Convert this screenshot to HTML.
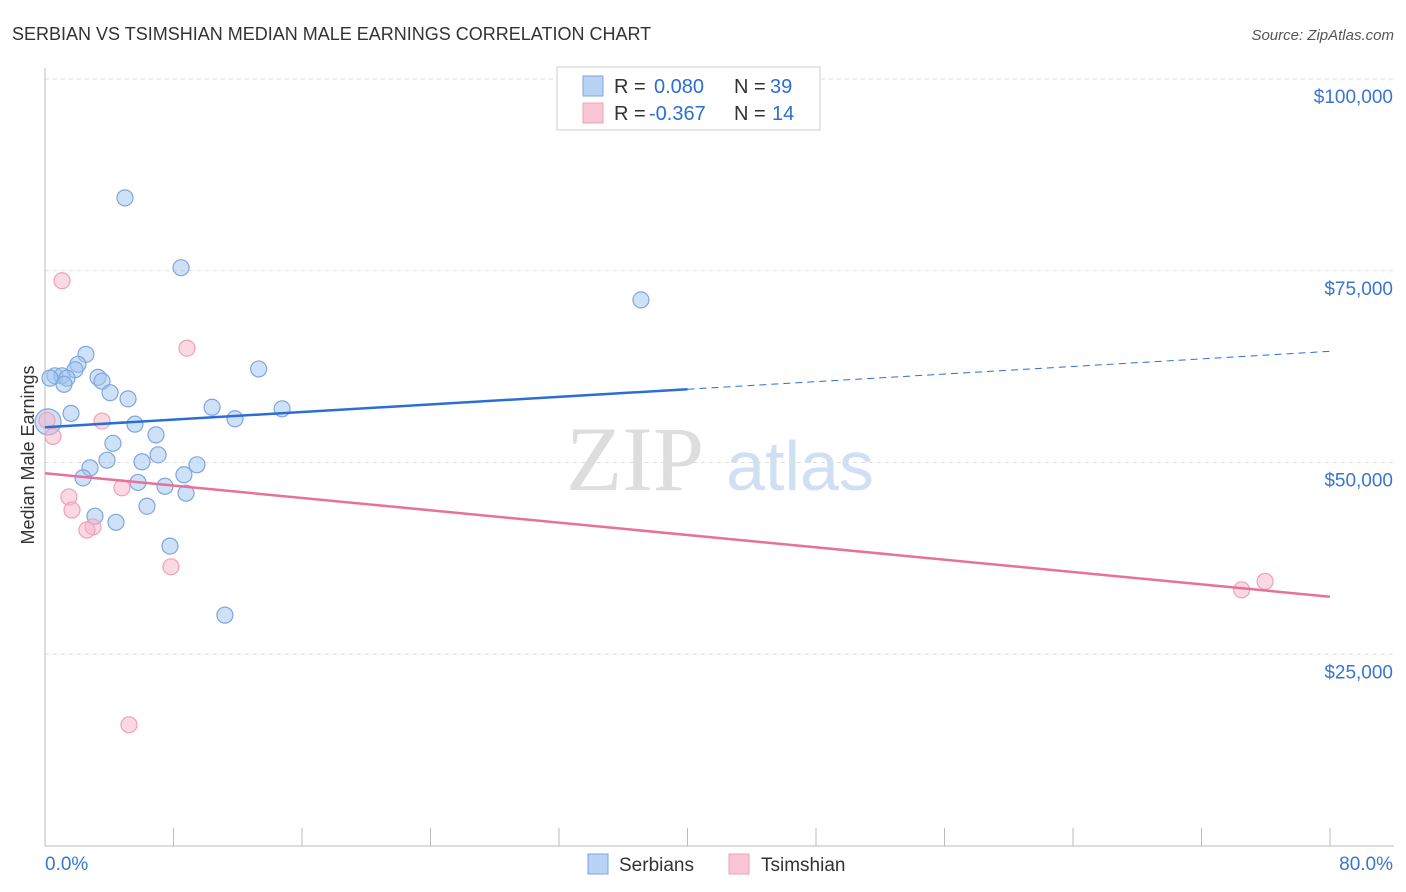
<!DOCTYPE html>
<html><head><meta charset="utf-8"><style>
body{margin:0;background:#fff;font-family:"Liberation Sans",sans-serif}
svg{display:block}
</style></head><body>
<svg id="chart" width="1406" height="892" xmlns="http://www.w3.org/2000/svg">
<text x="12" y="40" font-size="18" fill="#333">SERBIAN VS TSIMSHIAN MEDIAN MALE EARNINGS CORRELATION CHART</text>
<text x="1394" y="40" font-size="15" fill="#555" font-style="italic" text-anchor="end">Source: ZipAtlas.com</text>
<text x="635" y="490" font-size="92" fill="#ddd" font-family="Liberation Serif,serif" text-anchor="middle">ZIP</text>
<text x="800" y="490" font-size="70" fill="#cfe0f5" text-anchor="middle">atlas</text>
<g id="grid"></g><g id="axes"></g><g id="marks"></g>
<text transform="translate(34,455) rotate(-90)" font-size="18" fill="#333" text-anchor="middle">Median Male Earnings</text>
<g>
<rect x="557" y="67" width="263" height="63" fill="#fff" stroke="#ccc"/>
<rect x="583" y="76" width="20" height="20" fill="#b8d3f5" stroke="#7ea6e0"/>
<text x="614" y="93" font-size="20" fill="#333">R = </text><text x="654" y="93" font-size="20" fill="#2a6fd6">0.080</text>
<text x="734" y="93" font-size="20" fill="#333">N = </text><text x="770" y="93" font-size="20" fill="#2a6fd6">39</text>
<rect x="583" y="103" width="20" height="20" fill="#f9c6d6" stroke="#f0a0b8"/>
<text x="614" y="120" font-size="20" fill="#333">R = </text><text x="649" y="120" font-size="20" fill="#2a6fd6">-0.367</text>
<text x="734" y="120" font-size="20" fill="#333">N = </text><text x="772" y="120" font-size="20" fill="#2a6fd6">14</text>
</g>
<g><rect x="588" y="854" width="20" height="20" fill="#b8d3f5" stroke="#7ea6e0"/><text x="619" y="871" font-size="19" fill="#333">Serbians</text></g>
<g><rect x="729" y="854" width="20" height="20" fill="#f9c6d6" stroke="#f0a0b8"/><text x="761" y="871" font-size="19" fill="#333">Tsimshian</text></g>
</svg>
<script>
const yTicks=[25000,50000,75000,100000];
const yTickLabels=["$25,000","$50,000","$75,000","$100,000"];
const serbX=[4.98,8.47,37.1,2.55,2.05,13.3,1.87,0.62,1.06,3.30,1.37,3.55,1.18,4.05,5.17,10.4,14.76,1.62,11.83,5.60,6.91,4.23,7.04,6.04,3.86,2.80,9.46,8.65,2.37,5.79,7.47,8.78,6.35,3.11,4.42,7.78,11.2,0.19,0.31];
const serbY=[84.5,75.4,71.2,64.1,62.8,62.2,62.1,61.3,61.3,61.1,61.0,60.6,60.2,59.1,58.3,57.2,57.0,56.4,55.7,55.0,53.6,52.5,51.0,50.1,50.3,49.3,49.7,48.4,48.0,47.4,46.9,46.0,44.3,43.0,42.2,39.1,30.1,55.3,61.0];
const tsimX=[1.06,8.84,3.55,0.12,0.50,4.79,1.49,1.68,2.99,2.61,7.84,5.23,74.5,75.96];
const tsimY=[73.7,64.9,55.4,55.5,53.4,46.7,45.5,43.8,41.6,41.2,36.4,15.8,33.4,34.5];
const serbTrend=[54.6,64.5];
const tsimTrend=[48.6,32.5];
const NS="http://www.w3.org/2000/svg";
const X=p=>45+p/80*1285;
const Y=v=>846-v/100000*767;
function mk(tag,attrs,parent){const e=document.createElementNS(NS,tag);for(const k in attrs)e.setAttribute(k,attrs[k]);document.getElementById(parent).appendChild(e);return e;}
yTicks.forEach((t,i)=>{
 const g=mk('line',{x1:45,x2:1394,y1:Y(t),y2:Y(t),stroke:'#ddd','stroke-dasharray':'4,4'},'grid');
 
 
 const l=mk('text',{x:1393,y:Y(t)+24,'font-size':19,fill:'#3a75d0','text-anchor':'end'},'axes');
 l.textContent=yTickLabels[i];
 
 
});
const ax=mk('line',{x1:45,x2:45,y1:68,y2:846,stroke:'#bbb'},'axes');


const bx=mk('line',{x1:45,x2:1394,y1:846,y2:846,stroke:'#bbb'},'axes');


for(let p=0;p<=80;p+=8){const t=mk('line',{x1:X(p),x2:X(p),y1:828,y2:846,stroke:'#bbb'},'axes');
 
 }
const xl0=mk('text',{x:45,y:870,'font-size':19,fill:'#3a75d0'},'axes');xl0.textContent='0.0%';


const xl1=mk('text',{x:1393,y:870,'font-size':19,fill:'#3a75d0','text-anchor':'end'},'axes');xl1.textContent='80.0%';


serbX.forEach((x,i)=>{const c=mk('circle',{cx:X(x),cy:Y(serbY[i]*1000),r:i==37?13:8,fill:'rgba(160,196,240,0.5)',stroke:'#7ea6e0','stroke-width':1.2},'marks');
 
 });
tsimX.forEach((x,i)=>{const c=mk('circle',{cx:X(x),cy:Y(tsimY[i]*1000),r:8,fill:'rgba(248,180,200,0.5)',stroke:'#f0a0b8','stroke-width':1.2},'marks');
 
 });
const mid=40, sm=serbTrend[0]+(serbTrend[1]-serbTrend[0])*mid/80;
const s1=mk('line',{x1:X(0),y1:Y(serbTrend[0]*1000),x2:X(mid),y2:Y(sm*1000),stroke:'#2a6fd6','stroke-width':2.5},'marks');


const s2=mk('line',{x1:X(mid),y1:Y(sm*1000),x2:X(80),y2:Y(serbTrend[1]*1000),stroke:'#2a6fd6','stroke-width':1,'stroke-dasharray':'7,5'},'marks');


const t1=mk('line',{x1:X(0),y1:Y(tsimTrend[0]*1000),x2:X(80),y2:Y(tsimTrend[1]*1000),stroke:'#e8719a','stroke-width':2.5},'marks');


</script>
</body></html>
